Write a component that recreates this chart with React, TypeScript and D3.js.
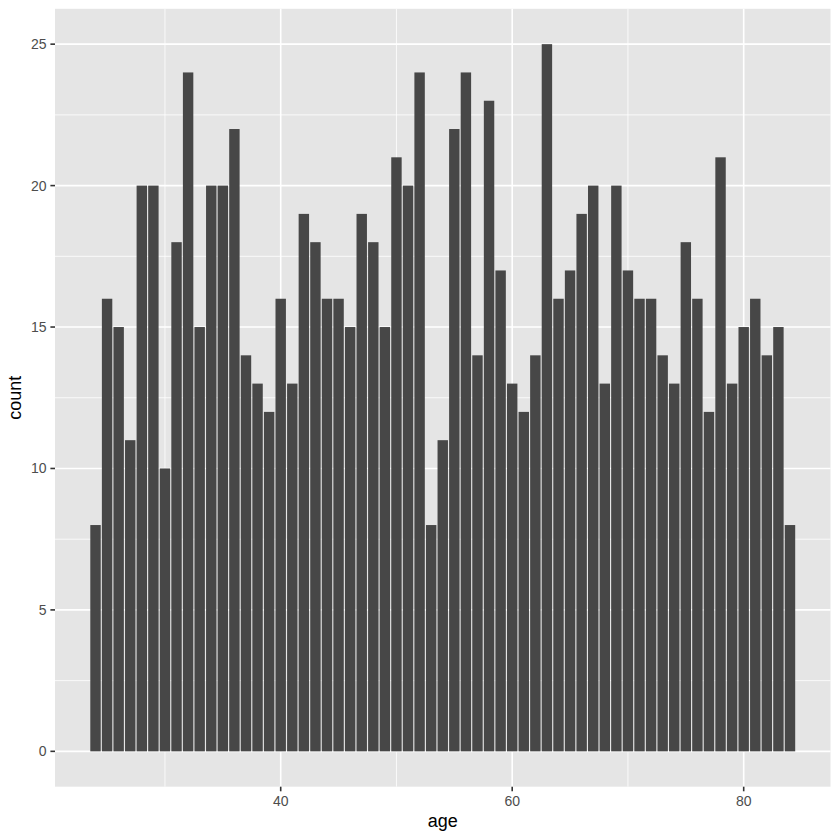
import * as d3 from "d3";

// age -> count
const ages = d3.range(24, 85);
const counts = [
    8, 16, 15, 11, 20, 20, 10, 18, 24, 15,
    20, 20, 22, 14, 13, 12, 16, 13, 19, 18,
    16, 16, 15, 19, 18, 15, 21, 20, 24, 8,
    11, 22, 24, 14, 23, 17, 13, 12, 14, 25,
    16, 17, 19, 20, 13, 20, 17, 16, 16, 14,
    13, 18, 16, 12, 21, 13, 15, 16, 14, 15, 8,
];
const xTicks = [40, 60, 80];
const xMinor = [30, 50, 70];
const yTicks = [0, 5, 10, 15, 20, 25];
const yMinor = [2.5, 7.5, 12.5, 17.5, 22.5];

const App = () => {
    const width = 840;
    const height = 840;
    const panelLeft = 55;
    const panelRight = 830.5;
    const panelTop = 8.8;
    const panelBottom = 786.7;
    const barWidth = 0.9;

    const x = d3.scaleLinear().domain([20.5, 87.5]).range([panelLeft, panelRight]);
    const y = d3.scaleLinear().domain([-1.25, 26.25]).range([panelBottom, panelTop]);

    const font = "'Liberation Sans', Arial, Helvetica, sans-serif";
    const gridMajor = 1.6;
    const gridMinor = 0.8;

    return (
        <div style={{ position: 'fixed', left: 0, top: 0 }}>
            <svg width={width} height={height} style={{ display: 'block', background: '#fff' }}>
                <rect x={panelLeft} y={panelTop} width={panelRight - panelLeft} height={panelBottom - panelTop} fill="#E5E5E5" />
                <g stroke="#fff">
                    { yMinor.map(d => <line key={'ym' + d} x1={panelLeft} x2={panelRight} y1={y(d)} y2={y(d)} strokeWidth={gridMinor} />) }
                    { xMinor.map(d => <line key={'xm' + d} x1={x(d)} x2={x(d)} y1={panelTop} y2={panelBottom} strokeWidth={gridMinor} />) }
                    { yTicks.map(d => <line key={'y' + d} x1={panelLeft} x2={panelRight} y1={y(d)} y2={y(d)} strokeWidth={gridMajor} />) }
                    { xTicks.map(d => <line key={'x' + d} x1={x(d)} x2={x(d)} y1={panelTop} y2={panelBottom} strokeWidth={gridMajor} />) }
                </g>
                <g fill="#474747">
                    { ages.map((a, i) => (
                        <rect
                            key={a}
                            x={x(a - barWidth / 2)}
                            width={x(a + barWidth / 2) - x(a - barWidth / 2)}
                            y={y(counts[i])}
                            height={y(0) - y(counts[i])}
                        />
                    )) }
                </g>
                {/* axes */}
                <g fontFamily={font} fontSize={14} fill="#4D4D4D">
                    { yTicks.map(d => (
                        <g key={'yt' + d}>
                            <line x1={panelLeft - 4.6} x2={panelLeft} y1={y(d)} y2={y(d)} stroke="#333" strokeWidth={1.6} />
                            <text x={panelLeft - 8.5} y={y(d) + 5} textAnchor="end">{d}</text>
                        </g>
                    )) }
                    { xTicks.map(d => (
                        <g key={'xt' + d}>
                            <line x1={x(d)} x2={x(d)} y1={panelBottom} y2={panelBottom + 4.6} stroke="#333" strokeWidth={1.6} />
                            <text x={x(d)} y={805.5} textAnchor="middle">{d}</text>
                        </g>
                    )) }
                </g>
                <text x={(panelLeft + panelRight) / 2} y={827} textAnchor="middle" fontFamily={font} fontSize={18} fill="#000">age</text>
                <text
                    transform={`translate(21,${(panelTop + panelBottom) / 2}) rotate(-90)`}
                    textAnchor="middle"
                    fontFamily={font}
                    fontSize={18}
                    fill="#000"
                >count</text>
            </svg>
        </div>
    );
};

export default App;
